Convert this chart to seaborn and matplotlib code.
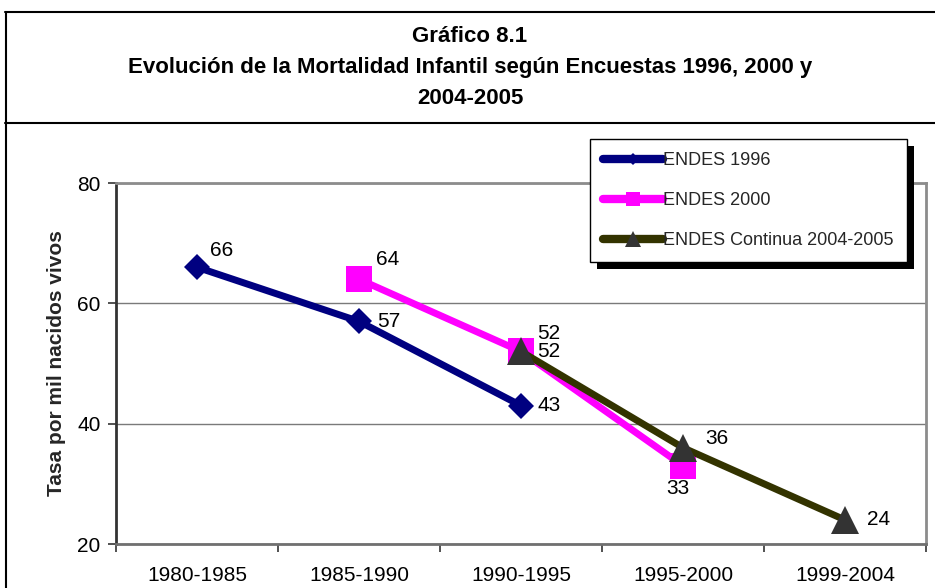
import matplotlib
matplotlib.use("Agg")
import matplotlib.pyplot as plt
import matplotlib.patheffects as pe
from matplotlib.lines import Line2D
import pandas as pd
import seaborn as sns

# periods on the x axis
periods = ['1980-1985', '1985-1990', '1990-1995', '1995-2000', '1999-2004']

endes_1996_periods = ['1980-1985', '1985-1990', '1990-1995']
endes_1996 = [66, 57, 43]
endes_2000_periods = ['1985-1990', '1990-1995', '1995-2000']
endes_2000 = [64, 52, 33]
endes_cont_periods = ['1990-1995', '1995-2000', '1999-2004']
endes_cont = [52, 36, 24]

series_names = ['ENDES 1996', 'ENDES 2000', 'ENDES Continua 2004-2005']
y_ticks = [20, 40, 60, 80]

title_lines = ['Gráfico 8.1',
               'Evolución de la Mortalidad Infantil según Encuestas 1996, 2000 y',
               '2004-2005']
y_label = 'Tasa por mil nacidos vivos'

rows = []
for name, pers, vals in zip(series_names,
                            [endes_1996_periods, endes_2000_periods, endes_cont_periods],
                            [endes_1996, endes_2000, endes_cont]):
    for p, v in zip(pers, vals):
        rows.append({'serie': name, 'periodo': p, 'pos': periods.index(p), 'tasa': v})
df = pd.DataFrame(rows)

# look of each series (colour, marker, sizes, label offsets in points)
styles = {
    'ENDES 1996': dict(color='#000080', marker='D', ms=13, mfc='#000080', leg_ms=6, z=3,
                       offs=[(9.5, 12, 'left'), (13, 0, 'left'), (12, 0, 'left')]),
    'ENDES 2000': dict(color='#FF00FF', marker='s', ms=19, mfc='#FF00FF', leg_ms=10, z=4,
                       offs=[(12, 14, 'left'), (11.5, 13, 'left'), (-3.5, -16, 'center')]),
    'ENDES Continua 2004-2005': dict(color='#333300', marker='^', ms=20, mfc='#333333', leg_ms=12, z=5,
                                     offs=[(11.5, 0, 'left'), (16, 6.5, 'left'), (16, 0, 'left')]),
}

sns.set_theme(style='white')
plt.rcParams['font.family'] = ['Liberation Sans', 'DejaVu Sans']

fig = plt.figure(figsize=(9.35, 5.88), dpi=100)
ax = fig.add_axes([116 / 935, 44 / 588, 810 / 935, 361 / 588])

for name in series_names:
    st = styles[name]
    sub = df[df['serie'] == name]
    sns.lineplot(data=sub, x='pos', y='tasa', ax=ax, color=st['color'], marker=st['marker'],
                 markersize=st['ms'], markerfacecolor=st['mfc'], markeredgewidth=0,
                 linewidth=5, label=name, zorder=st['z'], legend=False)
    for (x, y), (dx, dy, ha) in zip(zip(sub['pos'], sub['tasa']), st['offs']):
        ax.annotate(f'{y:.0f}', (x, y), xytext=(dx, dy), textcoords='offset points',
                    ha=ha, va='center', fontsize=15, color='black', zorder=6)

ax.set_xlim(-0.5, len(periods) - 0.5)
ax.set_ylim(20, 80)
ax.set_yticks(y_ticks)
ax.set_xticks(range(len(periods)))
ax.set_xticklabels(periods)
ax.set_xticks([i - 0.5 for i in range(len(periods) + 1)], minor=True)
ax.tick_params(axis='x', which='major', length=0, pad=15.5, labelsize=15, colors='black')
ax.tick_params(axis='x', which='minor', length=6, width=1.2, color='#333333', bottom=True)
ax.tick_params(axis='y', which='major', length=6, width=1.2, color='#333333', left=True,
               pad=5, labelsize=15, labelcolor='black')
ax.set_xlabel('')
ax.set_ylabel(y_label, fontsize=15, fontweight='bold', labelpad=8.5)

ax.grid(axis='y', color='#7a7a7a', linewidth=1)
ax.grid(axis='x', visible=False)
ax.set_axisbelow(True)
for side, col in [('left', '#333333'), ('bottom', '#707070'), ('top', '#8c8c8c'), ('right', '#8c8c8c')]:
    ax.spines[side].set_visible(True)
    ax.spines[side].set_color(col)
    ax.spines[side].set_linewidth(2)

leg = ax.legend(loc='upper left', bbox_to_anchor=(590 / 935, 1 - 139 / 588),
                bbox_transform=fig.transFigure, borderaxespad=0, fontsize=13,
                handlelength=3.3, handletextpad=0.05, labelspacing=1.27, borderpad=0.72,
                fancybox=False, framealpha=1, edgecolor='black')
leg.get_frame().set_linewidth(1)
leg.get_frame().set_path_effects([pe.SimplePatchShadow(offset=(5, -5), shadow_rgbFace='black', alpha=1.0),
                                  pe.Normal()])
leg.set_zorder(10)
for h, name in zip(leg.legend_handles, series_names):
    h.set_markersize(styles[name]['leg_ms'])
    h.set_linewidth(6)

# title box
for i, line in enumerate(title_lines):
    fig.text(470 / 935, 1 - (37 + 31 * i) / 588, line, ha='center', va='center',
             fontsize=16, fontweight='bold', color='black')
fig.add_artist(Line2D([5 / 935, 1], [1 - 12 / 588] * 2, transform=fig.transFigure, color='black', lw=1.5))
fig.add_artist(Line2D([5 / 935, 1], [1 - 123 / 588] * 2, transform=fig.transFigure, color='black', lw=1.5))
fig.add_artist(Line2D([6 / 935] * 2, [0, 1 - 12 / 588], transform=fig.transFigure, color='black', lw=1.5))

fig.savefig('out.png', dpi=100, facecolor='white')
